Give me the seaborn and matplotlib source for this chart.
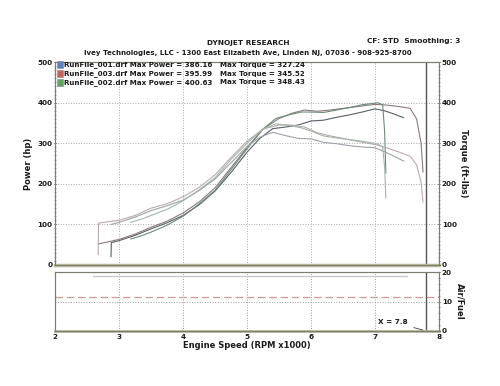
import matplotlib
matplotlib.use("Agg")
import matplotlib.pyplot as plt
import matplotlib.patches as mpatches
from matplotlib.ticker import MultipleLocator
import seaborn as sns

sns.set_style("white")
plt.rcParams['font.family'] = ['DejaVu Sans']
plt.rcParams['font.weight'] = 'bold'

# ---------------- data ----------------
run_names = ["RunFile_001.drf", "RunFile_003.drf", "RunFile_002.drf"]
max_power = ["386.16", "395.99", "400.63"]
max_torque = ["327.24", "345.52", "348.43"]

# run 001 (blue)
rpm_001 = [2.875, 2.88, 3.0, 3.25, 3.5, 3.75, 4.0, 4.25, 4.5, 4.75, 5.0, 5.2, 5.4, 5.6, 5.8,
           6.0, 6.2, 6.4, 6.6, 6.8, 7.0, 7.15, 7.3, 7.45]
hp_001 = [20, 55, 60, 73, 89, 104, 122, 148, 182, 228, 278, 312, 336, 340, 345,
          355, 357, 364, 370, 377, 385, 380, 372, 363]
tq_001 = [100, 100, 105, 118, 134, 146, 160, 183, 212, 252, 292, 315, 327, 319, 312,
          311, 302, 299, 294, 291, 289, 279, 268, 256]

# run 003 (red)
rpm_003 = [2.675, 2.68, 2.8, 3.0, 3.25, 3.5, 3.75, 4.0, 4.25, 4.5, 4.75, 5.0, 5.25, 5.5, 5.7,
           5.9, 6.1, 6.25, 6.5, 6.75, 7.0, 7.2, 7.4, 7.55, 7.65, 7.72, 7.75]
hp_003 = [52, 52, 56, 63, 76, 93, 108, 128, 155, 190, 240, 290, 335, 361, 374,
          382, 379, 381, 386, 391, 396, 394, 390, 386, 360, 300, 229]
tq_003 = [25, 103, 106, 110, 122, 140, 151, 168, 191, 222, 265, 305, 335, 345, 345,
          340, 326, 320, 312, 304, 297, 288, 277, 268, 247, 204, 155]

# run 002 (green)
rpm_002 = [3.18, 3.35, 3.5, 3.75, 4.0, 4.25, 4.5, 4.75, 5.0, 5.25, 5.45, 5.65, 5.85, 6.0,
           6.2, 6.4, 6.6, 6.8, 6.95, 7.05, 7.12, 7.15, 7.17]
hp_002 = [64, 72, 81, 98, 120, 150, 184, 235, 286, 335, 361, 370, 377, 377,
          376, 382, 388, 395, 398, 400, 395, 330, 226]
tq_002 = [105, 113, 122, 137, 158, 185, 215, 260, 300, 335, 348, 344, 338, 330,
          318, 313, 309, 305, 301, 298, 291, 242, 165]

# air / fuel panel
afr_rpm = [2.0, 8.0]
afr_value = [11.5, 11.5]
afr2_rpm = [2.6, 7.5]
afr2_value = [18.7, 18.7]
cursor_x = 7.8

runs = [
    (rpm_001, hp_001, tq_001, "#5a5f66", "#9ea2a8", "#5b7fc4"),
    (rpm_003, hp_003, tq_003, "#8a7a7e", "#b9abae", "#c8605c"),
    (rpm_002, hp_002, tq_002, "#6e8a78", "#a4b6a9", "#5ea65e"),
]

# ---------------- figure ----------------
fig = plt.figure(figsize=(5.0, 3.86), dpi=100)
fig.patch.set_facecolor("white")
ax = fig.add_axes([0.11, 0.3135, 0.768, 0.5255])
ax2 = ax.twinx()
axl = fig.add_axes([0.11, 0.1425, 0.768, 0.1528])
axl2 = axl.twinx()

for rpm, hp, tq, c_hp, c_tq, _ in runs:
    sns.lineplot(x=rpm, y=tq, ax=ax2, color=c_tq, lw=0.8, estimator=None, sort=False)
    sns.lineplot(x=rpm, y=hp, ax=ax, color=c_hp, lw=0.8, estimator=None, sort=False)

ax.set_xlim(2, 8)
ax.set_ylim(0, 500)
ax2.set_ylim(0, 500)
ax.axvline(cursor_x, color="#555555", lw=1.0)

tick_kw = dict(labelsize=5.2, length=2, width=0.6, colors="#1a1a1a", pad=1)
ax.set_yticks([0, 100, 200, 300, 400, 500])
ax.yaxis.set_minor_locator(MultipleLocator(10))
ax.tick_params(axis="y", which="major", direction="inout", **tick_kw)
ax.tick_params(axis="y", which="minor", direction="inout", length=1.5, width=0.4, colors="#555555")
ax.set_xticks([2, 3, 4, 5, 6, 7, 8])
ax.tick_params(axis="x", which="both", length=0, labelbottom=False)
ax2.set_yticks([0, 100, 200, 300, 400, 500])
ax2.yaxis.set_minor_locator(MultipleLocator(10))
ax2.tick_params(axis="y", which="major", direction="inout", **tick_kw)
ax2.tick_params(axis="y", which="minor", direction="inout", length=1.5, width=0.4, colors="#555555")
ax.grid(True, which="major", ls=":", color="#aaaaaa", lw=0.7)
ax.set_ylabel("Power (hp)", fontsize=6, fontweight="bold", labelpad=3, color="#1a1a1a")
ax2.set_ylabel("Torque (ft-lbs)", fontsize=6, fontweight="bold", rotation=-90, labelpad=8, color="#1a1a1a")

for a in (ax, ax2, axl, axl2):
    for s in a.spines.values():
        s.set_color("#7d7d70")
        s.set_linewidth(0.8)
ax.spines["bottom"].set_color("#b8b89a")
ax.spines["bottom"].set_linewidth(2.5)
axl.spines["bottom"].set_color("#b8b89a")
axl.spines["bottom"].set_linewidth(2.0)

# lower panel
sns.lineplot(x=afr_rpm, y=afr_value, ax=axl, color="#cf9898", lw=0.9, estimator=None)
axl.lines[-1].set_linestyle((0, (6, 3)))
sns.lineplot(x=afr2_rpm, y=afr2_value, ax=axl, color="#c8c8c8", lw=1.0, estimator=None)
axl.set_xlim(2, 8)
axl.set_ylim(0, 20)
axl2.set_ylim(0, 20)
axl.axvline(cursor_x, color="#555555", lw=1.0)
axl.set_yticks([10])
axl.tick_params(axis="y", which="both", length=0, labelleft=False)
axl.grid(True, which="major", ls=":", color="#999999", lw=0.7)
axl.set_xticks([2, 3, 4, 5, 6, 7, 8])
axl.xaxis.set_minor_locator(MultipleLocator(0.2))
axl.tick_params(axis="x", which="major", direction="inout", **tick_kw)
axl.tick_params(axis="x", which="minor", direction="inout", length=2, width=0.5, colors="#555555")
axl2.set_yticks([0, 10, 20])
axl2.yaxis.set_minor_locator(MultipleLocator(2))
axl2.tick_params(axis="y", which="major", direction="inout", **tick_kw)
axl2.tick_params(axis="y", which="minor", direction="inout", length=1.5, width=0.4, colors="#555555")
axl2.set_ylabel("Air/Fuel", fontsize=6, fontweight="bold", rotation=-90, labelpad=9, color="#1a1a1a")
axl.set_xlabel("Engine Speed (RPM x1000)", fontsize=6, fontweight="bold", labelpad=1, color="#1a1a1a")
axl.set_ylabel("")
axl.annotate("X = 7.8", xy=(7.79, 0.1), xytext=(7.05, 3.0), fontsize=5.2,
             fontweight="bold", color="#1a1a1a", va="center",
             arrowprops=dict(arrowstyle="-", color="#444444", lw=0.6))

# headers
fig.text(0.496, 0.888, "DYNOJET RESEARCH", ha="center", va="center", fontsize=5.3, fontweight="bold", color="#1a1a1a")
fig.text(0.92, 0.893, "CF: STD  Smoothing: 3", ha="right", va="center", fontsize=5.3, fontweight="bold", color="#1a1a1a")
fig.text(0.496, 0.862, "Ivey Technologies, LLC - 1300 East Elizabeth Ave, Linden NJ, 07036 - 908-925-8700",
         ha="center", va="center", fontsize=5.0, fontweight="bold", color="#1a1a1a")

# legend block
for i, (name, mp, mt) in enumerate(zip(run_names, max_power, max_torque)):
    yy = 0.832 - i * 0.0225
    fig.patches.append(mpatches.Rectangle((0.114, yy - 0.009), 0.012, 0.018, transform=fig.transFigure,
                                          facecolor=runs[i][5], edgecolor="#888888", lw=0.4))
    fig.text(0.127, yy, f"{name} Max Power = {mp}", ha="left", va="center", fontsize=5.1,
             fontweight="bold", color="#1a1a1a")
    fig.text(0.44, yy, f"Max Torque = {mt}", ha="left", va="center", fontsize=5.1,
             fontweight="bold", color="#1a1a1a")

fig.savefig("out.png", dpi=100, facecolor="white")
